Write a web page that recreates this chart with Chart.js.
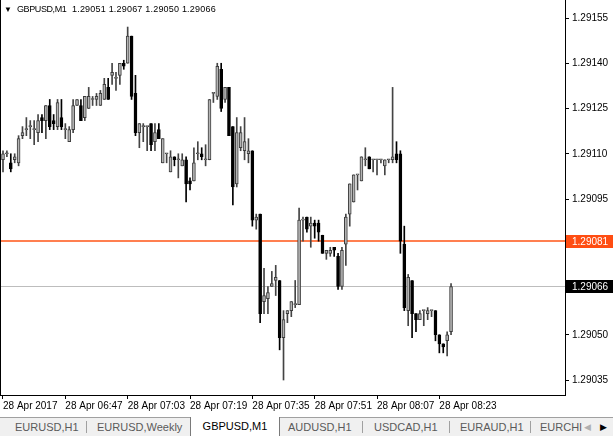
<!DOCTYPE html>
<html>
<head>
<meta charset="utf-8">
<script src="https://cdn.jsdelivr.net/npm/chart.js@4.4.0/dist/chart.umd.min.js"></script>
<style>
  html, body { margin: 0; padding: 0; background: #fff; }
  #wrap { position: relative; width: 613px; height: 436px; overflow: hidden; font-family: "Liberation Sans", Arial, sans-serif; }
  #chart-box { position: absolute; left: 0; top: 0; width: 613px; height: 417px; }
  .head { position: absolute; top: 4px; font-size: 9px; color: #000; white-space: pre; }
  #title-arrow { left: 4px; font-size: 8px; top: 5px; }
  #title-name { left: 17px; letter-spacing: -0.4px; }
  #title-ohlc { left: 72px; letter-spacing: 0.2px; }
  #tabs { position: absolute; left: 0; top: 417px; width: 613px; height: 19px; background: #f0f0f0; border-top: 1px solid #a0a0a0; box-sizing: border-box; }
  .tab { position: absolute; top: 0; height: 18px; line-height: 18px; font-size: 11px; color: #5a5a5a; white-space: nowrap; }
  .sep { position: absolute; top: 3px; width: 1px; height: 12px; background: #a0a0a0; }
  .tab.active { background: #fff; color: #000; border-left: 1px solid #7a7a7a; border-right: 1px solid #7a7a7a; top: -1px; height: 19px; text-align: center; }
</style>
</head>
<body>
<div id="wrap">
  <div id="chart-box"><canvas id="candleChart"></canvas></div>
  <div class="head" id="title-arrow">&#9660;</div>
  <div class="head" id="title-name">GBPUSD,M1</div>
  <div class="head" id="title-ohlc"></div>
  <div id="tabs"></div>
</div>
<script>
// GBPUSD M1 のローソク足 (28 Apr 2017 06:31 - 08:26)
const opens = [
  1.29108, 1.29110, 1.29107, 1.29108, 1.29107, 1.29116, 1.29118, 1.29119, 1.29118, 1.29117,
  1.29122, 1.29121, 1.29126, 1.29121, 1.29119, 1.29122, 1.29118, 1.29114, 1.29118, 1.29126,
  1.29126, 1.29122, 1.29125, 1.29128, 1.29128, 1.29126, 1.29128, 1.29132, 1.29136, 1.29135,
  1.29136, 1.29140, 1.29140, 1.29149, 1.29130, 1.29117, 1.29119, 1.29119, 1.29120, 1.29114,
  1.29118, 1.29107, 1.29110, 1.29104, 1.29109, 1.29108, 1.29106, 1.29108, 1.29101, 1.29101,
  1.29110, 1.29110, 1.29108, 1.29108, 1.29130, 1.29129, 1.29138, 1.29128, 1.29132, 1.29119,
  1.29100, 1.29112, 1.29111, 1.29110, 1.29111, 1.29088, 1.29090, 1.29061, 1.29062, 1.29066,
  1.29068, 1.29068, 1.29049, 1.29057, 1.29058, 1.29060, 1.29060, 1.29088, 1.29089, 1.29086,
  1.29087, 1.29087, 1.29083, 1.29077, 1.29077, 1.29079, 1.29076, 1.29066, 1.29080, 1.29090,
  1.29094, 1.29103, 1.29101, 1.29108, 1.29109, 1.29108, 1.29108, 1.29108, 1.29106, 1.29108,
  1.29108, 1.29110, 1.29110, 1.29080, 1.29058, 1.29068, 1.29057, 1.29055, 1.29058, 1.29057,
  1.29058, 1.29058, 1.29050, 1.29047, 1.29048, 1.29051
];
const highs = [
  1.29111, 1.29111, 1.29110, 1.29110, 1.29116, 1.29119, 1.29122, 1.29121, 1.29121, 1.29123,
  1.29123, 1.29126, 1.29128, 1.29123, 1.29128, 1.29128, 1.29120, 1.29119, 1.29128, 1.29128,
  1.29128, 1.29129, 1.29132, 1.29129, 1.29130, 1.29131, 1.29135, 1.29135, 1.29140, 1.29137,
  1.29140, 1.29141, 1.29152, 1.29149, 1.29136, 1.29120, 1.29120, 1.29119, 1.29120, 1.29120,
  1.29120, 1.29115, 1.29110, 1.29111, 1.29109, 1.29110, 1.29110, 1.29109, 1.29102, 1.29112,
  1.29114, 1.29112, 1.29113, 1.29128, 1.29130, 1.29140, 1.29140, 1.29132, 1.29132, 1.29119,
  1.29122, 1.29119, 1.29122, 1.29115, 1.29111, 1.29090, 1.29090, 1.29072, 1.29066, 1.29071,
  1.29073, 1.29068, 1.29058, 1.29058, 1.29061, 1.29068, 1.29092, 1.29089, 1.29089, 1.29089,
  1.29088, 1.29088, 1.29083, 1.29078, 1.29079, 1.29079, 1.29077, 1.29079, 1.29090, 1.29100,
  1.29103, 1.29103, 1.29109, 1.29112, 1.29109, 1.29108, 1.29108, 1.29108, 1.29108, 1.29108,
  1.29132, 1.29114, 1.29111, 1.29086, 1.29070, 1.29068, 1.29057, 1.29058, 1.29058, 1.29059,
  1.29058, 1.29058, 1.29050, 1.29047, 1.29051, 1.29067
];
const lows = [
  1.29104, 1.29109, 1.29104, 1.29107, 1.29106, 1.29115, 1.29116, 1.29115, 1.29113, 1.29114,
  1.29117, 1.29115, 1.29118, 1.29118, 1.29118, 1.29118, 1.29115, 1.29114, 1.29117, 1.29126,
  1.29121, 1.29121, 1.29125, 1.29126, 1.29126, 1.29126, 1.29128, 1.29128, 1.29133, 1.29131,
  1.29133, 1.29138, 1.29140, 1.29128, 1.29116, 1.29112, 1.29114, 1.29111, 1.29111, 1.29111,
  1.29115, 1.29107, 1.29107, 1.29104, 1.29106, 1.29102, 1.29106, 1.29094, 1.29098, 1.29101,
  1.29108, 1.29108, 1.29106, 1.29108, 1.29127, 1.29128, 1.29124, 1.29127, 1.29116, 1.29093,
  1.29099, 1.29111, 1.29108, 1.29107, 1.29086, 1.29085, 1.29054, 1.29057, 1.29057, 1.29066,
  1.29063, 1.29045, 1.29035, 1.29054, 1.29056, 1.29059, 1.29060, 1.29081, 1.29084, 1.29079,
  1.29082, 1.29081, 1.29077, 1.29075, 1.29076, 1.29076, 1.29065, 1.29065, 1.29073, 1.29086,
  1.29094, 1.29098, 1.29101, 1.29106, 1.29105, 1.29104, 1.29103, 1.29107, 1.29103, 1.29107,
  1.29107, 1.29107, 1.29077, 1.29058, 1.29053, 1.29049, 1.29051, 1.29055, 1.29053, 1.29055,
  1.29056, 1.29048, 1.29044, 1.29044, 1.29043, 1.29050
];
const closes = [
  1.29110, 1.29110, 1.29105, 1.29109, 1.29115, 1.29117, 1.29118, 1.29119, 1.29118, 1.29121,
  1.29121, 1.29126, 1.29119, 1.29120, 1.29127, 1.29119, 1.29118, 1.29118, 1.29126, 1.29128,
  1.29121, 1.29129, 1.29129, 1.29128, 1.29129, 1.29130, 1.29133, 1.29128, 1.29137, 1.29135,
  1.29140, 1.29139, 1.29149, 1.29129, 1.29117, 1.29120, 1.29119, 1.29119, 1.29113, 1.29117,
  1.29115, 1.29115, 1.29110, 1.29109, 1.29108, 1.29108, 1.29108, 1.29100, 1.29100, 1.29107,
  1.29110, 1.29109, 1.29108, 1.29128, 1.29130, 1.29139, 1.29125, 1.29132, 1.29116, 1.29099,
  1.29117, 1.29117, 1.29114, 1.29111, 1.29088, 1.29089, 1.29057, 1.29063, 1.29064, 1.29067,
  1.29069, 1.29049, 1.29055, 1.29058, 1.29061, 1.29060, 1.29088, 1.29088, 1.29085, 1.29087,
  1.29086, 1.29084, 1.29077, 1.29078, 1.29078, 1.29078, 1.29066, 1.29078, 1.29089, 1.29100,
  1.29103, 1.29103, 1.29109, 1.29108, 1.29105, 1.29108, 1.29108, 1.29108, 1.29108, 1.29108,
  1.29109, 1.29108, 1.29081, 1.29059, 1.29069, 1.29057, 1.29055, 1.29057, 1.29058, 1.29058,
  1.29058, 1.29050, 1.29047, 1.29046, 1.29050, 1.29066
];

// 時間軸のラベル (16本ごと)
const tickBars = [0, 16, 32, 48, 64, 80, 96, 112];
const tickLabels = ['28 Apr 2017', '28 Apr 06:47', '28 Apr 07:03', '28 Apr 07:19',
  '28 Apr 07:35', '28 Apr 07:51', '28 Apr 08:07', '28 Apr 08:23'];

// 価格軸の目盛り
const priceTicksShown = [1.29035, 1.29050, 1.29095, 1.29110, 1.29125, 1.29140, 1.29155];

// 水平線 (オレンジ) と Bid ライン
const levelLine = 1.29081;
const bidLine = 1.29066;

const tabNames = ['EURUSD,H1', 'EURUSD,Weekly', 'GBPUSD,M1', 'AUDUSD,H1', 'USDCAD,H1', 'EURAUD,H1', 'EURCHI'];

// タイトル (最新の足の OHLC)
const last = opens.length - 1;
document.getElementById('title-ohlc').textContent =
  [opens[last], highs[last], lows[last], closes[last]].map(v => v.toFixed(5)).join(' ');

// タブ
(function buildTabs() {
  const tabs = document.getElementById('tabs');
  const pos = [[15, 0], [97, 0], [190, 88], [288, 0], [374, 0], [460, 0], [540, 0]];
  const seps = [86, 362, 449, 530];
  let html = '';
  tabNames.forEach((name, i) => {
    const [x, w] = pos[i];
    if (name === 'GBPUSD,M1') {
      html += `<div class="tab active" style="left:${x}px;width:${w}px">${name}</div>`;
    } else {
      html += `<div class="tab" style="left:${x}px">${name}</div>`;
    }
  });
  seps.forEach(x => { html += `<div class="sep" style="left:${x}px"></div>`; });
  html += '<div class="tab" style="left:584px;font-size:9px;color:#b0b0b0">\u25C0</div>';
  html += '<div class="tab" style="left:600px;font-size:9px;color:#000">\u25B6</div>';
  tabs.innerHTML = html;
})();

const isBull = i => closes[i] >= opens[i];

// 水平線と価格ラベルを描くプラグイン
const priceLinesPlugin = {
  id: 'priceLines',
  beforeDatasetsDraw(chart) {
    const { ctx, chartArea, scales } = chart;
    ctx.save();
    [[bidLine, '#bdbdbd', 1], [levelLine, '#ff7f50', 2]].forEach(([v, color, w]) => {
      const y = Math.round(scales.y.getPixelForValue(v)) + (w === 1 ? 0.5 : 0);
      ctx.strokeStyle = color;
      ctx.lineWidth = w;
      ctx.beginPath();
      ctx.moveTo(chartArea.left, y);
      ctx.lineTo(chartArea.right, y);
      ctx.stroke();
    });
    // 左枠
    ctx.strokeStyle = '#000';
    ctx.lineWidth = 1;
    ctx.beginPath();
    ctx.moveTo(chartArea.left + 0.5, chartArea.top);
    ctx.lineTo(chartArea.left + 0.5, chartArea.bottom);
    ctx.stroke();
    ctx.restore();
  },
  afterDraw(chart) {
    const { ctx, chartArea, scales } = chart;
    ctx.save();
    ctx.font = '10px "Liberation Sans", Arial, sans-serif';
    ctx.textBaseline = 'middle';
    [[levelLine, '#ff4d12'], [bidLine, '#000']].forEach(([v, color]) => {
      const y = Math.round(scales.y.getPixelForValue(v));
      ctx.fillStyle = color;
      ctx.fillRect(chartArea.right + 1, y - 6, chart.width - chartArea.right - 1, 13);
      ctx.fillStyle = '#fff';
      ctx.fillText(v.toFixed(5), chartArea.right + 7, y + 1);
    });
    ctx.restore();
  }
};

const ctx = document.getElementById('candleChart');
new Chart(ctx, {
  type: 'bar',
  data: {
    datasets: [
      {
        label: 'wick',
        data: opens.map((_, i) => ({ x: i, y: [lows[i], highs[i]] })),
        backgroundColor: c => isBull(c.dataIndex) ? '#444' : '#000',
        barThickness: 1,
        grouped: false,
        order: 2
      },
      {
        label: 'body',
        data: opens.map((_, i) => ({ x: i, y: [opens[i], closes[i]] })),
        backgroundColor: c => isBull(c.dataIndex) ? '#b4b4b4' : '#000',
        borderColor: c => isBull(c.dataIndex) ? '#3c3c3c' : '#000',
        borderWidth: 1,
        borderSkipped: false,
        barThickness: 3,
        minBarLength: 1,
        grouped: false,
        order: 1
      }
    ]
  },
  options: {
    responsive: true,
    maintainAspectRatio: false,
    animation: false,
    layout: { padding: 0 },
    plugins: {
      legend: { display: false },
      tooltip: { enabled: false }
    },
    scales: {
      x: {
        type: 'linear',
        offset: false,
        min: -0.77,
        max: 144.25,
        afterBuildTicks: scale => { scale.ticks = tickBars.map(v => ({ value: v })); },
        afterFit: scale => { scale.height = 22; scale.paddingLeft = 0; scale.paddingRight = 0; },
        ticks: {
          autoSkip: false,
          maxRotation: 0,
          align: 'start',
          padding: 1,
          color: '#000',
          font: { family: '"Liberation Sans", Arial, sans-serif', size: 10 },
          callback: v => tickLabels[tickBars.indexOf(v)]
        },
        grid: { drawOnChartArea: false, drawTicks: true, tickLength: 4, color: '#000', offset: false },
        border: { display: true, color: '#000', width: 1 }
      },
      y: {
        position: 'right',
        min: 1.2903003,
        max: 1.2916097,
        afterBuildTicks: scale => { scale.ticks = priceTicksShown.map(v => ({ value: v })); },
        afterFit: scale => { scale.width = 48; scale.paddingTop = 0; scale.paddingBottom = 0; },
        ticks: {
          padding: 3,
          color: '#000',
          font: { family: '"Liberation Sans", Arial, sans-serif', size: 10 },
          callback: v => v.toFixed(5)
        },
        grid: { drawOnChartArea: false, drawTicks: true, tickLength: 4, color: '#000' },
        border: { display: true, color: '#000', width: 1 }
      }
    }
  },
  plugins: [priceLinesPlugin]
});
</script>
</body>
</html>
